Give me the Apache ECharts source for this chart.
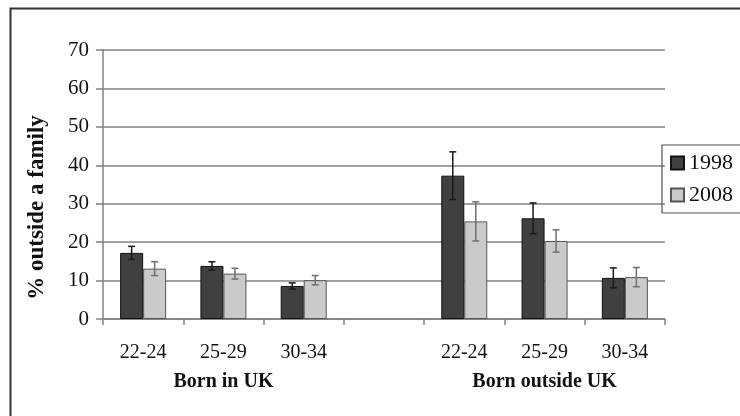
<!DOCTYPE html>
<html>
<head>
<meta charset="utf-8">
<script src="https://cdn.jsdelivr.net/npm/echarts@6/dist/echarts.min.js"></script>
<style>html,body{margin:0;padding:0;background:#fff}#c{width:740px;height:416px}</style>
</head>
<body>
<div id="c"></div>
<script>
const categories = ['22-24', '25-29', '30-34', '', '22-24', '25-29', '30-34'];
const groupLabels = ['', 'Born in UK', '', '', '', 'Born outside UK', ''];
const yTicks = [0, 10, 20, 30, 40, 50, 60, 70];
const v1998 = [17.2, 13.8, 8.6, null, 37.3, 26.2, 10.7];
const e1998 = [1.7, 1.1, 0.8, null, 6.2, 4.0, 2.6];
const v2008 = [13.1, 11.8, 10.1, null, 25.4, 20.3, 10.9];
const e2008 = [1.8, 1.4, 1.2, null, 5.1, 2.9, 2.5];

const BAR_W = 23;
const FONT = '"Liberation Serif", "DejaVu Serif", serif';

function errData(vals, errs) {
  const out = [];
  vals.forEach((v, i) => { if (v != null) out.push([i, v, errs[i]]); });
  return out;
}
function errRender(offset, color) {
  return function (params, api) {
    const i = api.value(0), v = api.value(1), e = api.value(2);
    const top = api.coord([i, v + e]);
    const bot = api.coord([i, v - e]);
    const x = top[0] + offset;
    const cap = 3.5;
    const st = { stroke: color, lineWidth: 1.5 };
    return {
      type: 'group',
      children: [
        { type: 'line', shape: { x1: x, y1: top[1], x2: x, y2: bot[1] }, style: st },
        { type: 'line', shape: { x1: x - cap, y1: top[1], x2: x + cap, y2: top[1] }, style: st },
        { type: 'line', shape: { x1: x - cap, y1: bot[1], x2: x + cap, y2: bot[1] }, style: st }
      ]
    };
  };
}

const chart = echarts.init(document.getElementById('c'), null, { renderer: 'canvas' });
chart.setOption({
  animation: false,
  textStyle: { fontFamily: FONT },
  graphic: [{
    type: 'rect', left: 8, top: 6, silent: true,
    shape: { width: 800, height: 500 },
    style: { fill: 'none', stroke: '#333', lineWidth: 2 }
  }],
  grid: { left: 103, right: 75, top: 50, bottom: 97 },
  legend: {
    orient: 'vertical', left: 662, top: 145,
    padding: [7, 60, 7, 8],
    itemWidth: 13, itemHeight: 13, itemGap: 10,
    icon: 'rect',
    borderColor: '#555', borderWidth: 1.2, borderRadius: 0,
    textStyle: { fontFamily: FONT, fontSize: 22, color: '#111' },
    data: ['1998', '2008']
  },
  xAxis: [{
    type: 'category', data: categories,
    axisLine: { lineStyle: { color: '#808080', width: 1.5 } },
    axisTick: { show: true, length: 6, lineStyle: { color: '#808080', width: 1.5 } },
    axisLabel: { fontFamily: FONT, fontSize: 20, color: '#111', margin: 24, interval: 0 }
  }, {
    type: 'category', data: groupLabels, position: 'bottom', offset: 29,
    axisLine: { show: false }, axisTick: { show: false },
    axisLabel: { fontFamily: FONT, fontSize: 20, fontWeight: 'bold', color: '#111', margin: 24, interval: 0 }
  }],
  yAxis: {
    type: 'value', min: yTicks[0], max: yTicks[yTicks.length - 1], interval: 10,
    name: '% outside a family', nameLocation: 'middle', nameGap: 54,
    nameTextStyle: { fontFamily: FONT, fontSize: 23, fontWeight: 'bold', color: '#111', padding: [0, 46, 0, 0] },
    axisLine: { show: true, lineStyle: { color: '#808080', width: 1.5 } },
    axisTick: { show: true, length: 7, lineStyle: { color: '#808080', width: 1.5 } },
    axisLabel: { fontFamily: FONT, fontSize: 21, color: '#111', margin: 14 },
    splitLine: { lineStyle: { color: '#808080', width: 1.5 } }
  },
  series: [{
    name: '1998', type: 'bar', data: v1998, barWidth: BAR_W, barGap: '0%',
    itemStyle: { color: '#404040', borderColor: '#111', borderWidth: 1 }
  }, {
    name: '2008', type: 'bar', data: v2008, barWidth: BAR_W, barGap: '0%',
    itemStyle: { color: '#cacaca', borderColor: '#555', borderWidth: 1 }
  }, {
    type: 'custom', data: errData(v1998, e1998), renderItem: errRender(-BAR_W / 2, '#1a1a1a'),
    encode: { x: 0, y: 1 }, z: 10, silent: true
  }, {
    type: 'custom', data: errData(v2008, e2008), renderItem: errRender(BAR_W / 2, '#707070'),
    encode: { x: 0, y: 1 }, z: 10, silent: true
  }]
});
</script>
</body>
</html>
